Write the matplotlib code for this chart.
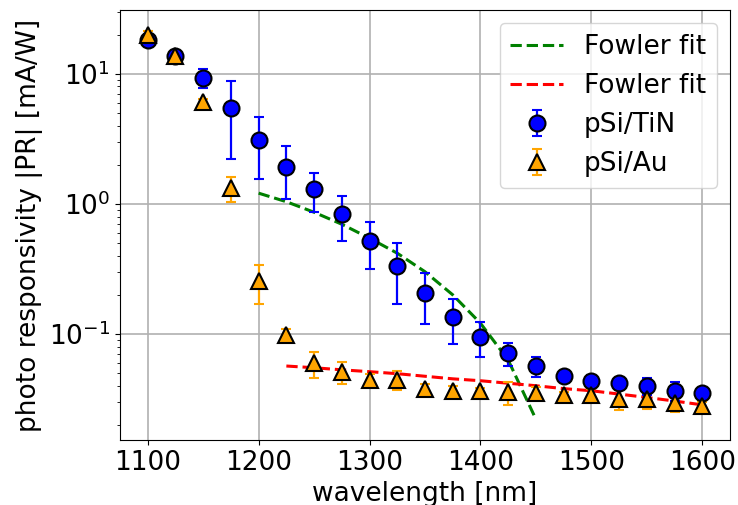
import matplotlib

matplotlib.use("Agg")
import matplotlib.pyplot as plt

# measured photo responsivity, wavelength in nm, PR in mA/W
wavelength = [1100, 1125, 1150, 1175, 1200, 1225, 1250, 1275, 1300, 1325, 1350,
              1375, 1400, 1425, 1450, 1475, 1500, 1525, 1550, 1575, 1600]

pr_tin = [18.3, 13.7, 9.37, 5.5, 3.1, 1.94, 1.30, 0.838, 0.519, 0.335, 0.208,
          0.135, 0.0955, 0.071, 0.0567, 0.0479, 0.0436, 0.0418, 0.0398, 0.0366, 0.035]
err_tin = [2.0, 1.0, 1.6, 3.3, 1.55, 0.85, 0.44, 0.32, 0.205, 0.165, 0.088,
           0.051, 0.029, 0.014, 0.010, 0.003, 0.005, 0.002, 0.006, 0.006, 0.002]

pr_au = [20.0, 13.7, 6.1, 1.32, 0.256, 0.098, 0.0596, 0.0507, 0.0443, 0.0443, 0.0376,
         0.0366, 0.0366, 0.0356, 0.035, 0.034, 0.034, 0.0316, 0.0316, 0.0293, 0.0281]
err_au = [1.5, 0.8, 0.3, 0.28, 0.085, 0.012, 0.0135, 0.0098, 0.005, 0.0075, 0.004,
          0.003, 0.002, 0.007, 0.004, 0.002, 0.004, 0.0058, 0.005, 0.004, 0.002]

# Fowler fits
fit_tin_wl = [1200, 1225, 1250, 1275, 1300, 1325, 1350, 1375, 1400, 1425, 1450]
fit_tin_pr = [1.21, 1.04, 0.863, 0.698, 0.545, 0.418, 0.301, 0.20, 0.121, 0.063, 0.0221]

fit_au_wl = [1225, 1250, 1275, 1300, 1325, 1350, 1375, 1400, 1425, 1450, 1475,
             1500, 1525, 1550, 1575, 1600]
fit_au_pr = [0.0567, 0.055, 0.053, 0.0513, 0.0495, 0.0473, 0.0452, 0.0437, 0.0418,
             0.040, 0.038, 0.0366, 0.0345, 0.0325, 0.0305, 0.0285]

plt.rcParams["font.size"] = 19

fig = plt.figure(figsize=(7.38, 5.05), dpi=100)
ax = fig.add_axes([120 / 738, 1 - 440 / 505, 610 / 738, 430 / 505])

ax.plot(fit_tin_wl, fit_tin_pr, "--", color="green", lw=2.2, label="Fowler fit")
ax.plot(fit_au_wl, fit_au_pr, "--", color="red", lw=2.2, label="Fowler fit")
ax.errorbar(wavelength, pr_tin, yerr=err_tin, fmt="o", color="blue", ecolor="blue",
            mec="black", mew=1.5, ms=11.5, elinewidth=1.6, capsize=3.5, capthick=1.6,
            label="pSi/TiN")
ax.errorbar(wavelength, pr_au, yerr=err_au, fmt="^", color="orange", ecolor="orange",
            mec="black", mew=1.5, ms=11.5, elinewidth=1.6, capsize=3.5, capthick=1.6,
            label="pSi/Au")

ax.set_yscale("log")
ax.set_xlim(1075, 1625)
ax.set_ylim(0.0153, 31)
ax.set_xticks([1100, 1200, 1300, 1400, 1500, 1600])
ax.grid(True, which="major", color="#b0b0b0", lw=1.2)
ax.set_axisbelow(True)
ax.set_xlabel("wavelength [nm]")
ax.set_ylabel("photo responsivity |PR| [mA/W]")
ax.legend(loc="upper right")

fig.savefig("out.png", dpi=100)
